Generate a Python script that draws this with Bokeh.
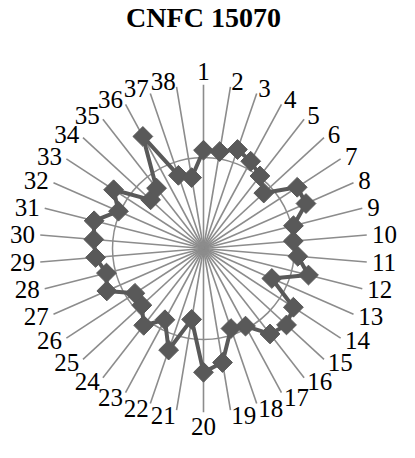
import numpy as np
from bokeh.plotting import figure
from bokeh.models import Range1d, Label, ColumnDataSource
from bokeh.core.properties import value
from bokeh.embed import file_html
from bokeh.resources import INLINE

# ---- data ----
title_text = "CNFC 15070"
categories = [str(i) for i in range(1, 39)]
values = [1.08, 1.08, 1.15, 1.09, 1.01, 0.90, 1.23, 1.23, 1.02, 0.99,
          1.04, 1.19, 0.82, 1.18, 1.24, 1.19, 0.97, 0.93, 1.27, 1.36,
          0.79, 1.18, 0.89, 1.07, 0.92, 0.90, 1.16, 1.10, 1.19, 1.21,
          1.24, 1.02, 1.18, 0.79, 0.84, 1.40, 0.85, 0.79]
axis_max = 1.8
grid_levels = [1.0]

# ---- layout ----
W, H = 399, 442
PX = 91.0            # pixels per value unit
CX, CY = 203, 248    # centre in canvas pixels (from top-left)
LABEL_R = 169 / PX

n = len(categories)
theta = np.arange(n) * 2 * np.pi / n
s, c = np.sin(theta), np.cos(theta)

p = figure(width=W, height=H, output_backend="svg", toolbar_location=None,
           x_range=Range1d(-CX / PX, (W - CX) / PX),
           y_range=Range1d(-(H - CY) / PX, CY / PX),
           min_border=0, outline_line_color=None)
p.axis.visible = False
p.grid.visible = False
p.background_fill_color = "white"
p.border_fill_color = "white"

grey = "#8c8c8c"
dark = "#595959"

# circular gridline
p.circle(x=[0] * len(grid_levels), y=[0] * len(grid_levels), radius=grid_levels,
         fill_color=None, line_color=grey, line_width=1.5)

# spokes
p.segment(x0=np.zeros(n), y0=np.zeros(n), x1=axis_max * s, y1=axis_max * c,
          line_color=grey, line_width=1.6)

# series
v = np.array(values)
xs = v * s
ys = v * c
p.line(np.append(xs, xs[0]), np.append(ys, ys[0]), line_color=dark, line_width=4,
       line_join="round")
p.scatter(xs, ys, marker="square", angle=np.pi / 4, size=14,
          fill_color=dark, line_color=dark)

# category labels
aligns, baselines = [], []
for si, ci in zip(s, c):
    if abs(si) < 0.01:
        aligns.append("center")
        baselines.append("bottom" if ci > 0 else "top")
    else:
        aligns.append("left" if si > 0 else "right")
        baselines.append("middle")
src = ColumnDataSource(dict(x=LABEL_R * s, y=LABEL_R * c, t=categories,
                            a=aligns, b=baselines))
p.text(x="x", y="y", text="t", source=src, text_align="a", text_baseline="b",
       text_font=value("Liberation Serif"), text_font_size="25px",
       text_color="black")

# title
p.add_layout(Label(x=CX, y=H - 1, x_units="screen", y_units="screen",
                   text=title_text, text_align="center", text_baseline="top",
                   text_font="Liberation Serif", text_font_size="28px",
                   text_font_style="bold", text_color="black"))

open("out.html", "w").write(file_html(p, INLINE))
